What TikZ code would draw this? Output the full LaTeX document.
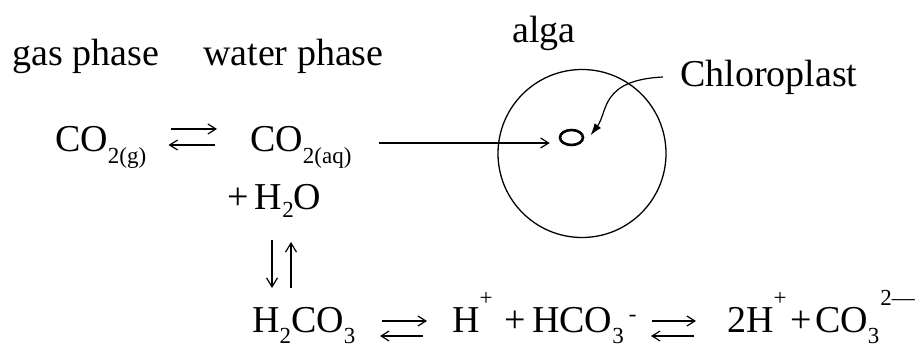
\documentclass[tikz,border=0pt]{standalone}
\usepackage{fontspec}
\setmainfont{Liberation Serif}
\usetikzlibrary{arrows.meta,shapes.geometric,calc}
\newcommand\sbs[2][11pt]{\raisebox{-#1}{\fontsize{23}{23}\selectfont #2}}
\newcommand\sps[2][27pt]{\raisebox{#1}{\fontsize{23}{23}\selectfont #2}}
\begin{document}
\begin{tikzpicture}[x=1pt,y=-1pt,
  txt/.style={inner sep=0pt, anchor=base west, font=\fontsize{38}{44}\selectfont},
  arr/.style={line width=1.2pt, -{Straight Barb[length=8pt,width=10pt,line width=1.2pt]}},
  varr/.style={line width=1.2pt, -{Straight Barb[length=9pt,width=11pt,line width=1.2pt]}},
  carr/.style={line width=1.2pt, -{Latex[length=12pt,width=8pt]}}]
\useasboundingbox (0,0) rectangle (921,347);
% labels
\node[txt] (gas) at (12,66) {gas phase};
\node[txt] (water) at (203,66) {water phase};
\node[txt] (alga) at (512,43) {alga};
\node[txt] (chlab) at (680,87) {Chloroplast};
% alga and chloroplast
\node[circle, draw, line width=1.3pt, minimum size=168pt, inner sep=0pt] (cell) at (582,153.5) {};
\node[ellipse, draw, line width=2.6pt, minimum width=23pt, minimum height=15pt, inner sep=0pt] (chl) at (571.5,137.5) {};
% formulas
\node[txt] (cog) at (55,152) {CO\sbs[12pt]{2(g)}};
\node[txt] (coaq) at (250,152) {CO\sbs[12pt]{2(aq)}};
\node[txt] (h2o) at (227,210) {+\,H\sbs[8pt]{2}O};
\node[txt] (hco) at (252,332) {H\sbs{2}CO\sbs{3}};
\node[txt] (ion1) at (452,332) {H\sps{+}\hspace{12pt}+\hspace{6pt}HCO\sbs{3}\hspace{5pt}\sps[10pt]{-}};
\node[txt] (ion2) at (727,332) {2H\sps{+}\hspace{4pt}+\hspace{3pt}CO\sbs{3}\hspace{1pt}\sps{2—}};
% equilibrium cog <-> coaq
\draw[arr] ([xshift=24pt]cog.east |- 0,129) -- ([xshift=-33pt]coaq.west |- 0,129);
\draw[arr] ([xshift=-35pt]coaq.west |- 0,145) -- ([xshift=22pt]cog.east |- 0,145);
% coaq -> chloroplast
\draw[arr] ([xshift=27pt]coaq.east |- 0,143) -- ([xshift=-9pt]chl.west |- 0,143);
% chloroplast label arrow
\draw[carr] ([xshift=-17pt]chlab.west |- 0,77) .. controls (600,80) and (608,112) .. ([xshift=10pt,yshift=-4pt]chl.north east);
% vertical equilibrium
\draw[varr] ([xshift=20pt]hco.west |- 0,240) -- ([xshift=20pt]hco.west |- 0,288);
\draw[varr] ([xshift=39pt]hco.west |- 0,288) -- ([xshift=39pt]hco.west |- 0,242);
% hco <-> ion1
\draw[arr] ([xshift=-70pt]ion1.west |- 0,321) -- ([xshift=-25pt]ion1.west |- 0,321);
\draw[arr] ([xshift=-29pt]ion1.west |- 0,336) -- ([xshift=-72pt]ion1.west |- 0,336);
% ion1 <-> ion2
\draw[arr] ([xshift=-75pt]ion2.west |- 0,321) -- ([xshift=-31pt]ion2.west |- 0,321);
\draw[arr] ([xshift=-33pt]ion2.west |- 0,336) -- ([xshift=-76pt]ion2.west |- 0,336);
\end{tikzpicture}
\end{document}
